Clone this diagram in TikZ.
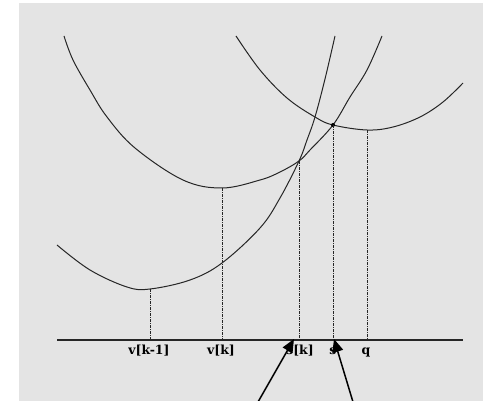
\documentclass[tikz,border=0pt]{standalone}
\usepackage{fontspec}
\newfontfamily\lblfont{DejaVu Serif}[BoldFont=DejaVu Serif Bold]
\usetikzlibrary{arrows.meta}
\definecolor{bggray}{HTML}{E4E4E4}
\tikzset{
  curve/.style={line width=1pt, black!85},
  guide/.style={line width=0.9pt, dash pattern=on 3pt off 1pt on 1pt off 1pt, black!85},
  axisline/.style={line width=1.3pt, black!85},
  pointer/.style={line width=1.5pt, -{Triangle[length=13pt,width=11pt]}},
  lbl/.style={font=\fontsize{12.5}{12.5}\lblfont\bfseries, anchor=base, inner sep=0pt}
}
\begin{document}
\begin{tikzpicture}[x=1pt,y=-1pt]
\useasboundingbox (0,0) rectangle (483,401);
\fill[bggray] (19,3) rectangle (483,401);
% curves
\draw[curve] plot[smooth, tension=0.6] coordinates {(57,245) (90,270) (127,287) (150,289) (190,280) (222,263) (260,228) (280,198) (299,161) (307,140) (315,117) (325,79) (335,36)};
\draw[curve] plot[smooth, tension=0.6] coordinates {(64,36) (73,60) (90,90) (107,117) (135,148) (183,180) (222,188) (260,180) (280,172) (299,161) (310,150) (333,125) (350,97) (367,70) (382,36)};
\draw[curve] plot[smooth, tension=0.6] coordinates {(236,36) (260,70) (287,98) (315,117) (333,125) (367,130) (393,127) (420,117) (443,102) (463,83)};
% points
\coordinate (m1) at (150,289);
\coordinate (m2) at (222,188);
\coordinate (x1) at (299,161);
\coordinate (x2) at (333,125);
\coordinate (m3) at (367,130);
\fill (x2) circle (2pt);
% axis
\coordinate (axL) at (57,340);
\coordinate (axR) at (463,340);
\draw[axisline] (axL) -- (axR);
\coordinate (b1) at (150,340);
\coordinate (b2) at (222,340);
\coordinate (b3) at (299,340);
\coordinate (b4) at (333,340);
\coordinate (b5) at (367,340);
\draw[guide] (m1) -- (b1);
\draw[guide] (m2) -- (b2);
\draw[guide] (x1) -- (b3);
\draw[guide] (x2) -- (b4);
\draw[guide] (m3) -- (b5);
% labels
\node[lbl] (l1) at (149,355) {v[k-1]};
\node[lbl] (l2) at (221,355) {v[k]};
\node[lbl] (l3) at (300,355) {s[k]};
\node[lbl] (l4) at (333,355) {s};
\node[lbl] (l5) at (366,355) {q};
% arrows
\coordinate (a1s) at (258,402);
\coordinate (a1e) at (294,339);
\coordinate (a2s) at (353,402);
\coordinate (a2e) at (334,339);
\draw[pointer] (a1s) -- (a1e);
\draw[pointer] (a2s) -- (a2e);
\end{tikzpicture}
\end{document}
